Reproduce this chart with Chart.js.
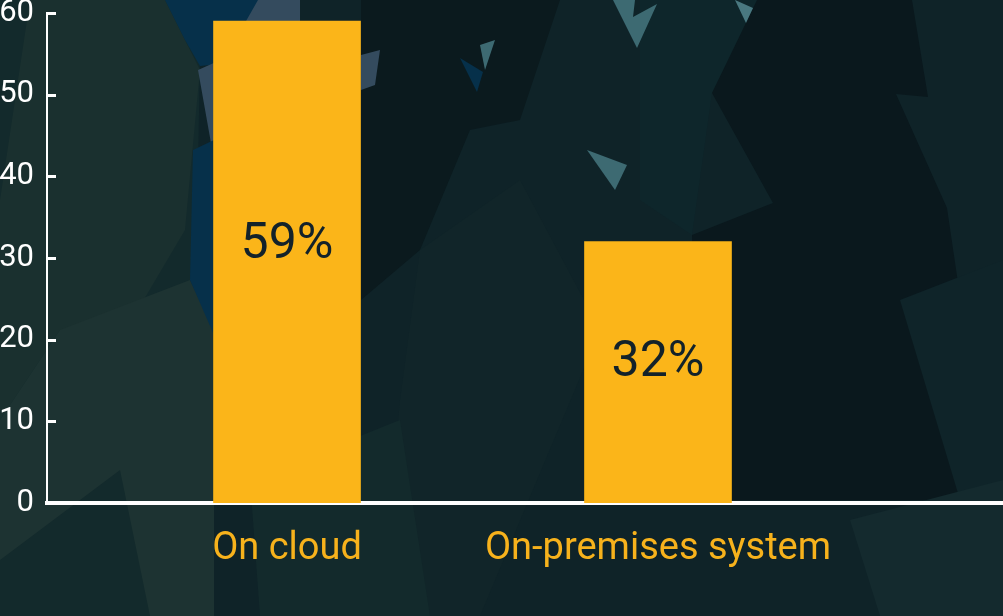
<!DOCTYPE html>
<html>
<head>
<meta charset="utf-8">
<script src="https://cdn.jsdelivr.net/npm/chart.js@4.4.1/dist/chart.umd.min.js"></script>
<style>
  html, body { margin: 0; padding: 0; }
  body {
    width: 1003px; height: 616px; overflow: hidden;
    background-color: #0f2328;
    background-image: url("data:image/svg+xml;utf8,<svg xmlns='http://www.w3.org/2000/svg' width='1003' height='616'><polygon points='0,0 180,0 200,60 195,330 150,616 0,616' fill='%23132a2c'/><polygon points='30,0 165,0 200,70 185,230 120,340 60,330 0,420 0,200' fill='%231a302f'/><polygon points='0,420 60,330 190,280 214,330 214,616 150,616 120,470 0,560' fill='%231d3332'/><polygon points='165,0 300,0 260,60 200,66 185,40' fill='%2306304a'/><polygon points='258,0 300,0 300,120 214,160 198,70 225,58' fill='%23344b5e'/><polygon points='193,150 214,140 214,335 190,280' fill='%2306304a'/><polygon points='361,0 560,0 520,120 470,130 420,250 361,300' fill='%230b1a1e'/><polygon points='460,58 483,72 477,92' fill='%2306304a'/><polygon points='480,45 495,40 485,70' fill='%233d6a72'/><polygon points='361,55 380,50 375,85 361,90' fill='%23344b5e'/><polygon points='640,0 760,0 712,93 692,235 640,200' fill='%230e262b'/><polygon points='757,0 912,0 928,97 896,94 947,208 990,500 700,500 692,235 773,203 712,93' fill='%230a181d'/><polygon points='613,0 635,0 633,17 657,4 637,48' fill='%233d6a72'/><polygon points='735,0 753,8 746,23' fill='%23497880'/><polygon points='587,150 627,165 615,190' fill='%233d6a72'/><polygon points='420,250 520,180 600,330 480,616 380,616 400,400' fill='%23112529'/><polygon points='900,300 1003,260 1003,480 960,500' fill='%230f2429'/><polygon points='850,520 1003,480 1003,616 880,616' fill='%23142a2e'/><polygon points='250,480 400,420 430,616 260,616' fill='%23132a2c'/></svg>");
  }
  #wrap { position: absolute; left: 0; top: 0; width: 1003px; height: 616px; }
</style>
</head>
<body>
<div id="wrap"><canvas id="c" width="1003" height="616"></canvas></div>
<script>
const categories = ['On cloud', 'On-premises system'];
const values = [59, 32];
const valueLabels = ['59%', '32%'];
const yTicks = [0, 10, 20, 30, 40, 50, 60];

const barColor = '#fbb519';
const labelColor = '#f7b21c';

const insideTicks = {
  id: 'insideTicks',
  afterDraw(chart) {
    const ctx = chart.ctx;
    const y = chart.scales.y;
    ctx.save();
    ctx.strokeStyle = '#ffffff';
    ctx.lineWidth = 3;
    y.ticks.forEach((t, i) => {
      const py = Math.round(y.getPixelForTick(i)) + 0.5;
      ctx.beginPath();
      ctx.moveTo(y.right, py);
      ctx.lineTo(y.right + 9, py);
      ctx.stroke();
    });
    ctx.restore();
  }
};

const valueLabelPlugin = {
  id: 'valueLabels',
  afterDatasetsDraw(chart) {
    const ctx = chart.ctx;
    const meta = chart.getDatasetMeta(0);
    ctx.save();
    ctx.fillStyle = '#13222a';
    ctx.font = '50px Roboto';
    ctx.textAlign = 'center';
    ctx.textBaseline = 'middle';
    meta.data.forEach((bar, i) => {
      const cy = bar.base - 0.535 * (bar.base - bar.y);
      ctx.fillText(valueLabels[i], bar.x, cy);
    });
    ctx.restore();
  }
};

new Chart(document.getElementById('c'), {
  type: 'bar',
  data: {
    datasets: [{
      data: categories.map((c, i) => ({ x: i + 1, y: values[i] })),
      backgroundColor: barColor,
      borderWidth: 0,
      barThickness: 147
    }]
  },
  options: {
    responsive: false,
    animation: false,
    devicePixelRatio: 1,
    layout: { padding: { top: 13, left: 0, right: 0, bottom: 0 } },
    plugins: { legend: { display: false }, tooltip: { enabled: false } },
    scales: {
      x: {
        type: 'linear',
        offset: false,
        min: 0.353,
        max: 2.93,
        grid: { display: false, drawTicks: false },
        border: { display: true, color: '#ffffff', width: 4 },
        afterBuildTicks(scale) { scale.ticks = categories.map((c, i) => ({ value: i + 1 })); },
        afterFit(scale) { scale.height = 113; scale.paddingLeft = 0; scale.paddingRight = 0; },
        ticks: {
          color: labelColor,
          font: { family: 'Roboto', size: 38 },
          padding: 24,
          maxRotation: 0,
          autoSkip: false,
          callback: (v) => categories[v - 1]
        }
      },
      y: {
        min: 0,
        max: 60,
        afterBuildTicks(scale) { scale.ticks = yTicks.map(v => ({ value: v })); },
        afterFit(scale) { scale.width = 47; scale.paddingTop = 0; scale.paddingBottom = 0; },
        grid: { display: false, drawTicks: false },
        border: { display: true, color: '#ffffff', width: 2 },
        ticks: {
          color: '#ffffff',
          font: { family: 'Roboto', size: 31, lineHeight: 0.84 },
          padding: 13
        }
      }
    }
  },
  plugins: [insideTicks, valueLabelPlugin]
});
</script>
</body>
</html>
